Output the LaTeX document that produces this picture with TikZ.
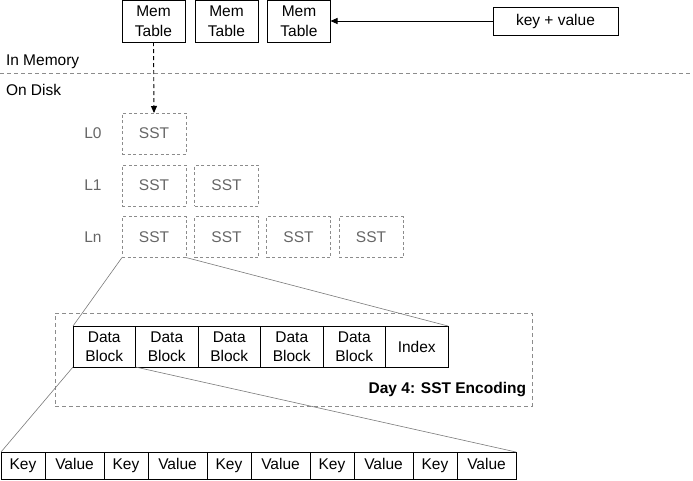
\documentclass[tikz,border=0pt]{standalone}
\usepackage{fontspec}
\setmainfont{Liberation Sans}
\usetikzlibrary{arrows.meta}
\definecolor{sstgray}{HTML}{666666}
\definecolor{dashgray}{HTML}{8C8C8C}
\definecolor{linegray}{HTML}{7A7A7A}
\begin{document}
\begin{tikzpicture}[x=1pt,y=-1pt,
  every node/.style={font=\fontsize{15.5}{19.5}\selectfont, inner sep=0pt, outer sep=0pt, align=center},
  memtab/.style={draw, line width=0.9pt, minimum width=63pt, minimum height=42pt},
  sstbox/.style={draw=dashgray, dash pattern=on 3pt off 2.5pt, line width=0.9pt, text=sstgray, minimum width=64pt, minimum height=41pt},
  cell/.style={draw, line width=0.9pt, minimum height=41pt, minimum width=62.5pt},
  kvcell/.style={draw, line width=0.9pt, minimum height=27pt, text height=11pt, text depth=3pt},
  lvl/.style={text=sstgray},
  zoomline/.style={draw=linegray, line width=0.6pt}]
\useasboundingbox (0,0) rectangle (693,480);

% memtables
\node[memtab] (m1) at (153.5,21) {Mem\\Table};
\node[memtab] (m2) at (226.5,21) {Mem\\Table};
\node[memtab] (m3) at (299,21) {Mem\\Table};
\node[draw, line width=0.9pt, minimum width=125pt, minimum height=28pt] (kv) at (555.5,21) {key + value};
\draw[line width=0.9pt, -{Triangle[length=7pt,width=6pt]}] (kv.west) -- (m3.east);

% memory / disk split
\coordinate (sl) at (0,73);
\coordinate (sr) at (693,73);
\draw[dashgray, line width=1pt, dash pattern=on 4pt off 3pt] (sl) -- (sr);
\node[anchor=west] (inmem) at (6,62) {In Memory};
\node[anchor=west] (ondisk) at (6,89.5) {On Disk};

% SST levels
\node[lvl] (l0) at (93,133.5) {L0};
\node[lvl] (l1) at (93,185.5) {L1};
\node[lvl] (ln) at (93,237) {Ln};
\node[sstbox] (s01) at (154,133.5) {SST};
\node[sstbox] (s11) at (154,185.5) {SST};
\node[sstbox] (s12) at (226.5,185.5) {SST};
\node[sstbox] (sn1) at (154,237) {SST};
\node[sstbox] (sn2) at (226.5,237) {SST};
\node[sstbox] (sn3) at (298.5,237) {SST};
\node[sstbox] (sn4) at (371,237) {SST};

\draw[line width=0.9pt, dash pattern=on 4pt off 3pt, -{Triangle[length=7pt,width=6pt]}] (m1.south) -- (s01.north);

% SST encoding
\node[draw=dashgray, dash pattern=on 4pt off 3pt, line width=0.9pt, minimum width=477pt, minimum height=93pt] (day) at (293.5,359.5) {};
\node[anchor=east, font={\fontsize{15.5}{19.5}\selectfont\bfseries}] (daylbl) at (526,390) {Day 4: SST Encoding};

\node[cell] (d1) at (104.25,346.5) {Data\\Block};
\node[cell] (d2) at (166.75,346.5) {Data\\Block};
\node[cell] (d3) at (229.25,346.5) {Data\\Block};
\node[cell] (d4) at (291.75,346.5) {Data\\Block};
\node[cell] (d5) at (354.25,346.5) {Data\\Block};
\node[cell] (idx) at (416.75,346.5) {Index};

\draw[zoomline] (sn1.south west) -- (d1.north west);
\draw[zoomline] (sn1.south east) -- (idx.north east);

% key/value row
\foreach \i in {0,...,4} {
  \node[kvcell, minimum width=44pt] (k\i) at (23+103*\i,465.5) {Key};
  \node[kvcell, minimum width=59pt] (v\i) at (74.5+103*\i,465.5) {Value};
}
\draw[zoomline] (d1.south west) -- (k0.north west);
\draw[zoomline] (d1.south east) -- (v4.north east);
\end{tikzpicture}
\end{document}
